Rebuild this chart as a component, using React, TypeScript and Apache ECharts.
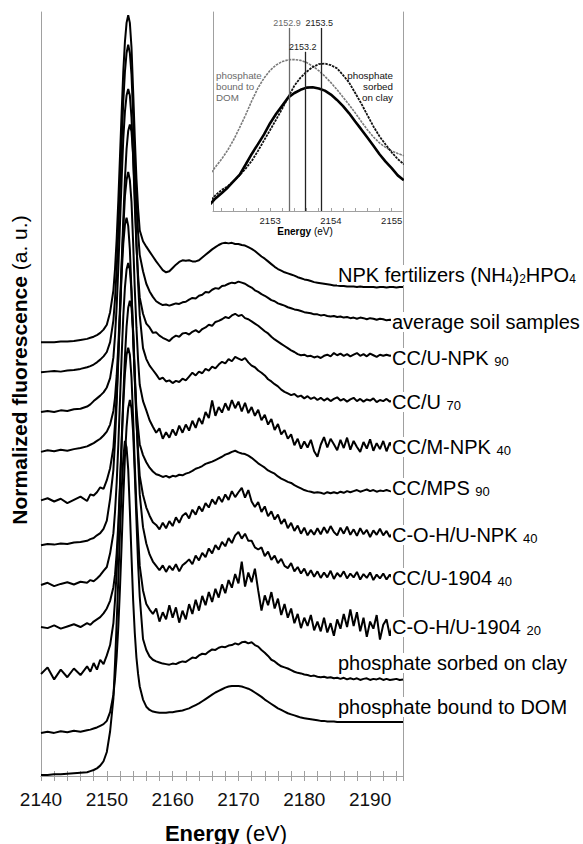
import React, { useEffect, useRef } from 'react';
import * as echarts from 'echarts';

// Energy grid (eV) shared by all main spectra
const ENERGY = [
  2140, 2141, 2142, 2143, 2144, 2145, 2146, 2147,
  2147.5, 2148, 2148.5, 2149, 2149.5, 2150, 2150.5,
  2151, 2151.25, 2151.5, 2151.75, 2152, 2152.25, 2152.5, 2152.75,
  2153, 2153.25, 2153.5, 2153.75, 2154, 2154.25, 2154.5, 2154.75,
  2155, 2155.5, 2156, 2156.5, 2157,
  2157.5, 2158, 2158.5, 2159, 2159.5, 2160, 2160.5, 2161, 2161.5, 2162,
  2162.5, 2163, 2163.5, 2164, 2164.5, 2165, 2165.5, 2166, 2166.5, 2167,
  2167.5, 2168, 2168.5, 2169, 2169.5, 2170, 2170.5, 2171, 2171.5, 2172,
  2172.5, 2173, 2173.5, 2174, 2174.5, 2175, 2175.5, 2176, 2176.5, 2177,
  2177.5, 2178, 2178.5, 2179, 2179.5, 2180, 2180.5, 2181, 2181.5, 2182,
  2182.5, 2183, 2183.5, 2184, 2184.5, 2185, 2185.5, 2186, 2186.5, 2187,
  2187.5, 2188, 2188.5, 2189, 2189.5, 2190, 2190.5, 2191, 2191.5, 2192,
  2192.5, 2193, 2193.5, 2194, 2194.5, 2195,
];

// Normalized spectra (relative to each curve's own offset)
const NPK_FERT = [
  0, 0, 0, 0.01, 0.01, 0.02, 0.04, 0.06,
  0.08, 0.10, 0.13, 0.17, 0.23, 0.32, 0.55,
  0.95, 1.35, 1.9, 2.6, 3.4, 4.2, 4.95, 5.5, 5.85, 5.99, 5.85, 5.4, 4.6, 3.75, 3.0, 2.45,
  2.05, 1.85, 1.75, 1.66, 1.57,
  1.48, 1.40, 1.32, 1.28, 1.30, 1.36, 1.42, 1.47, 1.50, 1.49,
  1.50, 1.48, 1.48, 1.50, 1.55, 1.60, 1.65, 1.70, 1.74, 1.78,
  1.81, 1.82, 1.81, 1.82, 1.80, 1.80, 1.78, 1.77, 1.74, 1.71,
  1.67, 1.62, 1.57, 1.53, 1.48, 1.43, 1.38, 1.34, 1.31, 1.28,
  1.26, 1.24, 1.22, 1.19, 1.17, 1.15, 1.14, 1.12, 1.10, 1.09,
  1.08, 1.07, 1.06, 1.05, 1.04, 1.04, 1.03, 1.03, 1.02, 1.02,
  1.02, 1.01, 1.02, 1.01, 1.01, 1.01, 1.01, 1.00, 1.01, 1.01,
  1.00, 1.01, 1.01, 1.00, 1.01, 1.01,
];
const AVG_SOIL = [
  0, 0.01, 0.02, 0.01, 0.03, 0.04, 0.06, 0.09,
  0.11, 0.14, 0.18, 0.23, 0.29, 0.37, 0.55,
  0.95, 1.35, 1.9, 2.6, 3.4, 4.2, 4.95, 5.5, 5.85, 6.0, 5.85, 5.45, 4.7, 3.85, 3.1, 2.55,
  2.15, 1.85, 1.62, 1.48, 1.38,
  1.30, 1.26, 1.23, 1.24, 1.22, 1.24, 1.26, 1.25, 1.28, 1.29,
  1.33, 1.36, 1.35, 1.40, 1.42, 1.47, 1.46, 1.51, 1.54, 1.53,
  1.58, 1.59, 1.62, 1.64, 1.63, 1.66, 1.64, 1.62, 1.58, 1.55,
  1.50, 1.47, 1.43, 1.40, 1.36, 1.32, 1.30, 1.26, 1.24, 1.22,
  1.19, 1.17, 1.15, 1.14, 1.12, 1.10, 1.09, 1.08, 1.06, 1.06,
  1.04, 1.05, 1.03, 1.02, 1.03, 1.01, 1.02, 1.00, 1.01, 0.99,
  1.00, 0.98, 1.00, 0.99, 0.97, 0.99, 0.98, 0.96, 0.98, 0.97,
  0.95, 0.96, 0.95, 0.94, 0.96, 0.95,
];
const CCU_NPK90 = [
  0, 0.02, 0.00, 0.03, 0.02, 0.05, 0.06, 0.10,
  0.14, 0.20, 0.25, 0.30, 0.36, 0.45, 0.62,
  1.0, 1.4, 1.95, 2.65, 3.45, 4.25, 5.0, 5.5, 5.8, 5.92, 5.8, 5.4, 4.65, 3.8, 3.05, 2.5,
  2.1, 1.8, 1.62, 1.55, 1.45,
  1.46, 1.40, 1.36, 1.33, 1.30, 1.36, 1.40, 1.38, 1.44, 1.45,
  1.42, 1.47, 1.50, 1.46, 1.52, 1.55, 1.60, 1.58, 1.65, 1.67,
  1.70, 1.74, 1.72, 1.77, 1.80, 1.76, 1.78, 1.72, 1.70, 1.66,
  1.62, 1.58, 1.53, 1.48, 1.44, 1.38, 1.33, 1.29, 1.25, 1.21,
  1.17, 1.13, 1.10, 1.06, 1.04, 1.05, 1.02, 1.03, 1.00, 1.02,
  0.99, 1.03, 1.05, 1.02, 1.08, 1.04, 1.07, 1.03, 1.06, 1.02,
  1.05, 1.08, 1.03, 1.06, 1.02, 1.07, 1.04, 1.01, 1.05, 1.03,
  1.05, 1.03, 1.04, 1.05, 1.04, 1.04,
];
const CCU70 = [
  0, 0.03, 0.01, 0.04, 0.02, 0.05, 0.07, 0.10,
  0.13, 0.16, 0.20, 0.24, 0.30, 0.37, 0.50,
  0.75, 1.0, 1.40, 1.95, 2.65, 3.45, 4.25, 5.0, 5.55, 5.88, 6.0, 5.87, 5.45, 4.7, 3.85, 3.1,
  2.5, 1.9, 1.7, 1.58, 1.50,
  1.42, 1.33, 1.36, 1.29, 1.31, 1.26, 1.30, 1.28, 1.34, 1.31,
  1.38, 1.45, 1.40, 1.47, 1.44, 1.52, 1.49, 1.56, 1.53, 1.60,
  1.65, 1.62, 1.70, 1.66, 1.74, 1.71, 1.68, 1.72, 1.64, 1.58,
  1.55, 1.49, 1.45, 1.40, 1.33, 1.29, 1.24, 1.20, 1.14, 1.10,
  1.07, 1.04, 1.06, 1.01, 1.03, 0.98, 1.02, 0.97, 1.00, 0.95,
  0.99, 0.94, 0.98, 0.93, 0.97, 1.00, 0.94, 0.97, 0.92, 0.96,
  0.99, 0.93, 0.97, 0.92, 0.96, 0.94, 0.98, 0.91, 0.95, 0.93,
  0.97, 0.92, 0.95, 0.93, 0.94, 0.92,
];
const CCM_NPK40 = [
  0.03, 0.07, 0.01, 0.06, -0.02, 0.04, 0.10, 0.02,
  0.14, 0.12, 0.18, 0.27, 0.24, 0.40, 0.62,
  1.0, 1.45, 1.95, 2.7, 3.45, 4.3, 5.0, 5.6, 5.9, 6.05, 5.9, 5.5, 4.75, 3.9, 3.2, 2.6,
  2.15, 1.85, 1.68, 1.50, 1.38,
  1.27, 1.35, 1.16, 1.28, 1.18, 1.33, 1.22, 1.40, 1.27, 1.42,
  1.31, 1.49, 1.36, 1.54, 1.43, 1.65, 1.54, 1.86, 1.58, 1.74,
  1.64, 1.81, 1.68, 1.87, 1.72, 1.84, 1.66, 1.82, 1.63, 1.74,
  1.58, 1.69, 1.50, 1.60, 1.42, 1.52, 1.32, 1.43, 1.24, 1.32,
  1.16, 1.24, 1.04, 1.16, 0.98, 1.11, 1.00, 1.14, 0.93, 0.83,
  1.05, 1.19, 1.00, 1.16, 1.06, 0.95, 1.14, 0.99, 1.18, 0.96,
  1.12, 1.01, 0.92, 1.10, 0.98, 1.15, 0.94, 1.08, 0.97, 1.12,
  0.93, 1.09, 0.98, 1.06, 0.96, 1.01,
];
const CC_MPS90 = [
  0, 0.02, 0.01, 0.03, 0.02, 0.05, 0.06, 0.08,
  0.11, 0.13, 0.18, 0.22, 0.30, 0.45, 0.85,
  1.38, 1.92, 2.62, 3.42, 4.22, 4.97, 5.52, 5.87, 6.0, 5.85, 5.42, 4.65, 3.8, 3.05, 2.5, 2.15,
  1.85, 1.65, 1.52, 1.42, 1.35,
  1.30, 1.28, 1.25, 1.27, 1.24, 1.27, 1.26, 1.29, 1.28, 1.31,
  1.33, 1.36, 1.40, 1.42, 1.45, 1.49, 1.51, 1.53, 1.56, 1.59,
  1.62, 1.66, 1.68, 1.71, 1.73, 1.70, 1.68, 1.67, 1.64, 1.60,
  1.55, 1.50, 1.46, 1.42, 1.37, 1.34, 1.31, 1.26, 1.22, 1.19,
  1.16, 1.14, 1.10, 1.07, 1.04, 1.01, 0.99, 0.98, 0.96, 0.97,
  0.96, 0.94, 0.97, 0.95, 0.97, 0.95, 0.98, 0.96, 0.99, 0.97,
  0.99, 1.01, 0.98, 1.00, 1.02, 0.99, 1.01, 0.98, 1.00, 0.99,
  1.01, 0.99, 0.98, 1.00, 0.99, 1.00,
];
const COHU_NPK40 = [
  0, 0.04, -0.02, 0.02, 0.05, 0.01, 0.06, 0.04,
  0.09, 0.07, 0.12, 0.18, 0.26, 0.33, 0.58,
  0.95, 1.35, 1.88, 2.58, 3.38, 4.18, 4.92, 5.45, 5.78, 5.9, 5.78, 5.38, 4.6, 3.75, 3.0, 2.45,
  2.0, 1.65, 1.42, 1.27, 1.15,
  1.10, 1.02, 1.14, 1.04, 1.17, 1.08, 1.24, 1.14, 1.27, 1.32,
  1.22, 1.38, 1.29, 1.44, 1.35, 1.50, 1.42, 1.57, 1.48, 1.62,
  1.52, 1.66, 1.56, 1.72, 1.61, 1.70, 1.78, 1.60, 1.74, 1.53,
  1.43, 1.52, 1.34, 1.44, 1.26, 1.35, 1.20, 1.29, 1.12, 1.21,
  1.04, 1.14, 0.99, 1.09, 0.94, 1.05, 0.91, 1.01, 0.92, 1.04,
  0.93, 1.06, 0.95, 1.08, 0.97, 0.91, 1.05, 0.94, 1.07, 0.92,
  1.02, 0.90, 1.04, 0.93, 1.01, 0.88, 1.00, 0.92, 1.03, 0.91,
  0.99, 0.88, 0.97, 0.90, 0.98, 0.92,
];
const CCU_1904_40 = [
  0.02, 0.00, 0.05, -0.01, 0.03, 0.07, 0.02, 0.09,
  0.06, 0.12, 0.16, 0.20, 0.27, 0.36, 0.50,
  0.75, 0.98, 1.38, 1.92, 2.62, 3.42, 4.22, 4.97, 5.52, 5.87, 6.0, 5.87, 5.45, 4.7, 3.85, 3.1,
  2.45, 1.85, 1.55, 1.35, 1.22,
  1.14, 1.06, 1.15, 1.03, 1.14, 1.06, 1.17, 1.04, 1.15, 1.20,
  1.26, 1.17, 1.33, 1.24, 1.38, 1.30, 1.46, 1.37, 1.52, 1.44,
  1.58, 1.50, 1.65, 1.56, 1.70, 1.76, 1.64, 1.73, 1.60, 1.60,
  1.48, 1.44, 1.48, 1.32, 1.40, 1.25, 1.33, 1.19, 1.27, 1.14,
  1.10, 1.19, 1.04, 1.12, 1.00, 1.09, 0.96, 1.06, 0.94, 1.04,
  0.92, 1.02, 0.93, 1.05, 0.90, 1.01, 0.94, 1.04, 0.91, 1.00,
  0.93, 1.03, 0.89, 0.99, 0.92, 1.02, 0.88, 0.98, 0.91, 1.00,
  0.89, 0.98, 0.90, 0.97, 0.88, 0.93,
];
const COHU_1904_20 = [
  0.02, 0.14, -0.08, 0.10, -0.04, 0.12, 0.00, 0.16,
  0.06, 0.22, 0.10, 0.28, 0.20, 0.36, 0.55,
  0.95, 1.38, 1.9, 2.62, 3.42, 4.22, 4.97, 5.52, 5.87, 6.0, 5.87, 5.45, 4.7, 3.85, 3.1, 2.55,
  2.0, 1.55, 1.30, 1.20, 1.12,
  1.22, 0.98, 1.15, 1.02, 1.28, 1.05, 1.24, 0.96, 1.18, 1.02,
  1.30, 1.12, 1.38, 1.18, 1.45, 1.28, 1.52, 1.34, 1.58, 1.42,
  1.66, 1.50, 1.74, 1.60, 1.85, 1.68, 2.08, 1.62, 1.88, 1.70,
  1.95, 1.55, 1.18, 1.46, 1.28, 1.52, 1.22, 1.40, 1.10, 1.30,
  1.05, 1.22, 0.95, 1.12, 0.86, 1.05, 0.90, 1.10, 0.82, 0.98,
  0.80, 1.05, 0.78, 0.95, 0.72, 1.02, 0.85, 1.12, 0.88, 1.20,
  0.90, 1.15, 0.80, 1.05, 0.70, 0.98, 0.85, 1.10, 0.65, 0.92,
  1.02, 0.72, 0.95, 0.80, 0.90, 0.88,
];
const SORBED_CLAY = [
  0, 0.02, 0.00, 0.03, 0.01, 0.04, 0.02, 0.05,
  0.06, 0.08, 0.10, 0.13, 0.16, 0.22, 0.38,
  0.7, 1.0, 1.4, 1.95, 2.65, 3.45, 4.3, 5.05, 5.6, 5.95, 6.1, 5.95, 5.5, 4.75, 3.9, 3.1,
  2.5, 1.72, 1.52, 1.40, 1.34,
  1.31, 1.29, 1.27, 1.26, 1.25, 1.27, 1.26, 1.29, 1.31, 1.30,
  1.34, 1.38, 1.37, 1.42, 1.45, 1.44, 1.49, 1.53, 1.52, 1.56,
  1.58, 1.57, 1.60, 1.61, 1.64, 1.62, 1.66, 1.67, 1.64, 1.66,
  1.61, 1.58, 1.52, 1.47, 1.41, 1.34, 1.31, 1.26, 1.22, 1.20,
  1.18, 1.15, 1.12, 1.10, 1.09, 1.07, 1.06, 1.04, 1.05, 1.03,
  1.02, 1.03, 1.01, 1.02, 1.00, 1.01, 0.99, 1.01, 0.98, 1.00,
  0.98, 1.00, 0.97, 0.99, 1.00, 0.97, 0.99, 0.98, 1.00, 0.97,
  0.99, 0.97, 0.98, 0.99, 0.97, 0.98,
];
const BOUND_DOM = [
  0, 0.00, 0.01, 0.01, 0.02, 0.03, 0.04, 0.05,
  0.07, 0.09, 0.12, 0.17, 0.25, 0.42, 0.80,
  1.4, 2.05, 2.8, 3.6, 4.45, 5.2, 5.8, 6.12, 6.0, 5.6, 4.85, 4.0, 3.2, 2.6, 2.15, 1.85,
  1.62, 1.38, 1.25, 1.19, 1.16,
  1.15, 1.14, 1.14, 1.14, 1.15, 1.15, 1.16, 1.17, 1.18, 1.20,
  1.22, 1.25, 1.28, 1.31, 1.35, 1.39, 1.43, 1.47, 1.51, 1.54,
  1.57, 1.60, 1.62, 1.63, 1.63, 1.63, 1.62, 1.60, 1.58, 1.55,
  1.51, 1.47, 1.43, 1.38, 1.34, 1.30, 1.26, 1.22, 1.19, 1.16,
  1.13, 1.11, 1.09, 1.07, 1.05, 1.04, 1.03, 1.02, 1.01, 1.00,
  0.99, 0.99, 0.98, 0.98, 0.98, 0.97, 0.97, 0.97, 0.97, 0.97,
  0.97, 0.97, 0.97, 0.97, 0.97, 0.97, 0.97, 0.97, 0.97, 0.97,
  0.97, 0.97, 0.97, 0.97, 0.97, 0.97,
];

const CURVES = [
  NPK_FERT, AVG_SOIL, CCU_NPK90, CCU70, CCM_NPK40, CC_MPS90,
  COHU_NPK40, CCU_1904_40, COHU_1904_20, SORBED_CLAY, BOUND_DOM,
];
// vertical offsets of the stacked spectra
const OFFSETS = [7.95, 7.40, 6.67, 5.94, 5.02, 4.23, 3.50, 2.71, 1.85, 0.79, 0.02];

// Curve labels (rich text: m = main, s/t = subscript)
const CURVE_LABELS = [
  '{m|NPK fertilizers (NH}{t|4}{m|)}{t|2}{m|HPO}{t|4}',
  '{m|average soil samples}',
  '{m|CC/U-NPK }{s|90}',
  '{m|CC/U }{s|70}',
  '{m|CC/M-NPK }{s|40}',
  '{m|CC/MPS }{s|90}',
  '{m|C-O-H/U-NPK }{s|40}',
  '{m|CC/U-1904 }{s|40}',
  '{m|C-O-H/U-1904 }{s|20}',
  '{m|phosphate sorbed on clay}',
  '{m|phosphate bound to DOM}',
];

const X_TICKS_MAIN = { min: 2140, max: 2195, interval: 10 };

// Inset: white-line region
const INSET_ENERGY = [
  2152.0, 2152.1, 2152.2, 2152.3, 2152.4, 2152.5, 2152.6, 2152.7, 2152.8, 2152.9,
  2153.0, 2153.1, 2153.2, 2153.3, 2153.4, 2153.5, 2153.6, 2153.7, 2153.8, 2153.9,
  2154.0, 2154.1, 2154.2, 2154.3, 2154.4, 2154.5, 2154.6, 2154.7, 2154.8, 2154.9,
  2155.0, 2155.1, 2155.2,
];
const INSET_DOM = [
  18.0, 22.1, 26.0, 30.5, 35.8, 42.0, 48.5, 55.5, 61.8, 66.8,
  70.7, 73.4, 75.1, 76.0, 76.1, 75.7, 74.6, 72.8, 70.5, 67.7,
  64.5, 61.0, 57.2, 53.4, 49.3, 45.0, 40.8, 37.2, 34.2, 32.0,
  30.2, 28.9, 27.8,
];
const INSET_CLAY = [
  4.5, 7.9, 10.5, 12.4, 15.1, 18.0, 21.4, 25.3, 30.2, 35.5,
  40.7, 46.0, 51.5, 57.4, 63.0, 67.0, 70.0, 72.3, 73.8, 74.1,
  73.3, 71.7, 68.3, 64.5, 59.3, 54.0, 48.2, 42.5, 37.5, 33.4,
  29.5, 26.1, 23.5,
];
const INSET_SOIL = [
  3.0, 6.3, 8.9, 11.7, 15.0, 18.3, 23.5, 28.8, 33.6, 38.5,
  44.1, 48.9, 53.0, 57.1, 59.3, 60.9, 62.0, 62.2, 61.6, 60.5,
  58.5, 55.8, 52.7, 49.1, 45.0, 41.0, 36.9, 32.8, 28.5, 24.8,
  21.5, 17.9, 15.5,
];
const INSET_X_LABELS = [2153, 2154, 2155];
const INSET_X_TICKS = [
  2152.2, 2152.4, 2152.6, 2152.8, 2153, 2153.2, 2153.4, 2153.6, 2153.8, 2154,
  2154.2, 2154.4, 2154.6, 2154.8, 2155,
];
const INSET_LINE_E = [2153.31, 2153.57, 2153.84];
const INSET_LINE_TOP = [92, 80, 92];
const INSET_LINE_LABELS = ['2152.9', '2153.2', '2153.5'];
const INSET_LINE_COLORS = ['#6a6a6a', '#222', '#222'];

const FONT = "'Liberation Sans', Arial, Helvetica, sans-serif";
const AXIS_GRAY = '#a0a0a0';

// layout (pixels)
const LABEL_POS = [
  [337, 275], [391, 322], [391, 358], [391, 402], [391, 447], [391, 488],
  [391, 535], [391, 578], [391, 627], [337, 663], [337, 707],
];

export default function App() {
  const ref = useRef<HTMLDivElement>(null);

  useEffect(() => {
    const chart = echarts.init(ref.current!, null, { renderer: 'svg' });

    const mainSeries = CURVES.map((c, k) => ({
      type: 'line',
      xAxisIndex: 0,
      yAxisIndex: 0,
      data: ENERGY.map((e, i) => [e, OFFSETS[k] + c[i]]),
      showSymbol: false,
      symbol: 'none',
      lineStyle: { color: '#000', width: 2 },
      silent: true,
      z: 3,
    }));

    const insetSeries = [
      {
        type: 'line', xAxisIndex: 2, yAxisIndex: 2,
        data: INSET_ENERGY.map((e, i) => [e, INSET_DOM[i]]),
        symbol: 'none', silent: true,
        lineStyle: { color: '#7a7a7a', width: 1.6, type: [2.5, 1] },
      },
      {
        type: 'line', xAxisIndex: 2, yAxisIndex: 2,
        data: INSET_ENERGY.map((e, i) => [e, INSET_CLAY[i]]),
        symbol: 'none', silent: true,
        lineStyle: { color: '#111', width: 1.8, type: [2.5, 1] },
      },
      {
        type: 'line', xAxisIndex: 2, yAxisIndex: 2,
        data: INSET_ENERGY.map((e, i) => [e, INSET_SOIL[i]]),
        symbol: 'none', silent: true,
        lineStyle: { color: '#000', width: 2.6 },
        markLine: {
          symbol: 'none', silent: true, animation: false,
          data: INSET_LINE_E.map((e, i) => [
            {
              coord: [e, 0],
              lineStyle: { color: INSET_LINE_COLORS[i], width: 1.3, type: 'solid' },
              label: {
                show: true, position: 'end', formatter: INSET_LINE_LABELS[i],
                color: INSET_LINE_COLORS[i], fontSize: 9, distance: 0,
                fontFamily: FONT, offset: [-2, 0],
              },
            },
            { coord: [e, INSET_LINE_TOP[i]] },
          ]),
        },
      },
    ];

    const richMain = {
      m: { fontSize: 20, fontFamily: FONT, color: '#000', verticalAlign: 'bottom' },
      s: { fontSize: 13, fontFamily: FONT, color: '#000', verticalAlign: 'bottom' },
      t: { fontSize: 12, fontFamily: FONT, color: '#000', verticalAlign: 'bottom' },
    };

    const labelGraphics = CURVE_LABELS.map((txt, k) => ({
      type: 'text',
      x: LABEL_POS[k][0],
      y: LABEL_POS[k][1],
      z: 100,
      silent: true,
      style: {
        text: txt,
        rich: richMain,
        align: 'left',
        verticalAlign: 'middle',
        backgroundColor: '#fff',
        padding: [0, 1, 0, 1],
      },
    }));

    const option = {
      animation: false,
      backgroundColor: '#fff',
      textStyle: { fontFamily: FONT },
      grid: [
        { left: 41, right: 180, top: 12, bottom: 68 },
        { left: 213, right: 181, top: 12, height: 199 },
      ],
      xAxis: [
        {
          type: 'value', gridIndex: 0, position: 'bottom',
          min: X_TICKS_MAIN.min, max: X_TICKS_MAIN.max, interval: X_TICKS_MAIN.interval,
          axisLine: { show: true, lineStyle: { color: AXIS_GRAY, width: 1 } },
          axisTick: { show: true, inside: true, length: 5, lineStyle: { color: AXIS_GRAY } },
          minorTick: { show: true, splitNumber: 5, length: 5, lineStyle: { color: AXIS_GRAY } },
          axisLabel: {
            fontSize: 19, color: '#111', margin: 14, showMaxLabel: false, fontFamily: FONT,
            formatter: (v: number) => String(v),
          },
          splitLine: { show: false },
        },
        {
          type: 'value', gridIndex: 0, position: 'top',
          min: X_TICKS_MAIN.min, max: X_TICKS_MAIN.max, interval: X_TICKS_MAIN.interval,
          axisLine: { show: true, lineStyle: { color: AXIS_GRAY, width: 1 } },
          axisTick: { show: true, inside: true, length: 5, lineStyle: { color: AXIS_GRAY } },
          minorTick: { show: true, splitNumber: 5, length: 5, lineStyle: { color: AXIS_GRAY } },
          axisLabel: { show: false },
          splitLine: { show: false },
        },
        {
          type: 'value', gridIndex: 1, position: 'bottom',
          min: 2152.06, max: 2155.17,
          axisLine: { show: true, lineStyle: { color: AXIS_GRAY, width: 1 } },
          axisTick: { show: true, inside: true, length: 3, customValues: INSET_X_TICKS, lineStyle: { color: AXIS_GRAY } },
          axisLabel: {
            show: true, customValues: INSET_X_LABELS, fontSize: 9.5, color: '#222', margin: 4, fontFamily: FONT,
            formatter: (v: number) => String(v),
          },
          splitLine: { show: false },
        },
      ],
      yAxis: [
        {
          type: 'value', gridIndex: 0, position: 'left', min: 0, max: 14,
          axisLine: { show: true, lineStyle: { color: AXIS_GRAY, width: 1 } },
          axisTick: { show: false }, axisLabel: { show: false }, splitLine: { show: false },
        },
        {
          type: 'value', gridIndex: 0, position: 'right', min: 0, max: 14,
          axisLine: { show: true, lineStyle: { color: AXIS_GRAY, width: 1 } },
          axisTick: { show: false }, axisLabel: { show: false }, splitLine: { show: false },
        },
        {
          type: 'value', gridIndex: 1, position: 'left', min: 0, max: 100,
          axisLine: { show: true, lineStyle: { color: AXIS_GRAY, width: 1 } },
          axisTick: { show: false }, axisLabel: { show: false }, splitLine: { show: false },
        },
      ],
      series: [...mainSeries, ...insetSeries],
      graphic: [
        ...labelGraphics,
        {
          type: 'text', x: 226, y: 833, z: 100, silent: true,
          style: {
            text: '{b|Energy}{n| (eV)}',
            align: 'center', verticalAlign: 'middle',
            rich: {
              b: { fontSize: 22, fontWeight: 'bold', fontFamily: FONT, color: '#000' },
              n: { fontSize: 22, fontFamily: FONT, color: '#000' },
            },
          },
        },
        {
          type: 'text', x: 19, y: 370, z: 100, rotation: Math.PI / 2, silent: true,
          style: {
            text: '{b|Normalized fluorescence}{n| (a. u.)}',
            align: 'center', verticalAlign: 'middle',
            rich: {
              b: { fontSize: 21, fontWeight: 'bold', fontFamily: FONT, color: '#000' },
              n: { fontSize: 21, fontFamily: FONT, color: '#000' },
            },
          },
        },
        {
          type: 'text', x: 305, y: 231, z: 100, silent: true,
          style: {
            text: '{b|Energy}{n| (eV)}',
            align: 'center', verticalAlign: 'middle',
            rich: {
              b: { fontSize: 10, fontWeight: 'bold', fontFamily: FONT, color: '#222' },
              n: { fontSize: 10, fontFamily: FONT, color: '#222' },
            },
          },
        },
        {
          type: 'text', x: 216, y: 70, z: 100, silent: true,
          style: {
            text: 'phosphate\nbound to\nDOM',
            fill: '#6a6a6a', fontSize: 9.8, lineHeight: 11, fontFamily: FONT,
            align: 'left', verticalAlign: 'top',
          },
        },
        {
          type: 'text', x: 393, y: 70, z: 100, silent: true,
          style: {
            text: 'phosphate\nsorbed\non clay',
            fill: '#111', fontSize: 9.8, lineHeight: 11, fontFamily: FONT,
            align: 'right', verticalAlign: 'top',
          },
        },
      ],
    };

    chart.setOption(option as any);
    return () => chart.dispose();
  }, []);

  return (
    <div
      ref={ref}
      style={{ position: 'fixed', left: 0, top: 0, width: 583, height: 844, background: '#fff' }}
    />
  );
}
